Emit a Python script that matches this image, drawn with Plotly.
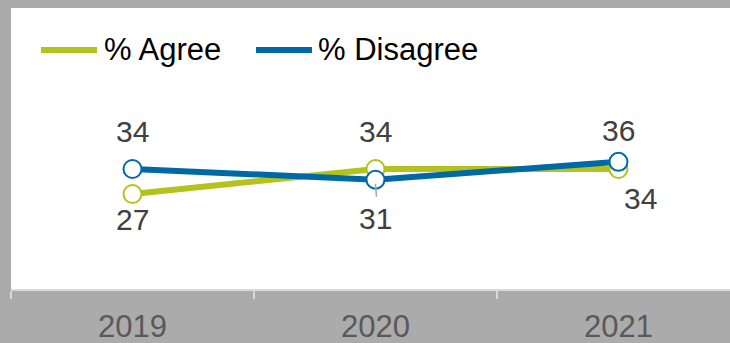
import plotly.graph_objects as go

years = ["2019", "2020", "2021"]
agree = [27, 34, 34]
disagree = [34, 31, 36]
series_names = ["% Agree", "% Disagree"]

# label placement (style): pixel shifts for data labels
agree_shift = [(0, -25), (0, 38), (22, -29)]
disagree_shift = [(0, 38), (0, -39), (0, 31)]

GREEN = "#B3C21C"
BLUE = "#0068A5"
FONT = "Liberation Sans, Arial, sans-serif"

W, H = 730, 343
ML, MR, MT, MB = 11, 0, 8, 54
PW, PH = W - ML - MR, H - MT - MB

fig = go.Figure()
for name, vals, col in [(series_names[0], agree, GREEN), (series_names[1], disagree, BLUE)]:
    fig.add_trace(go.Scatter(
        x=years, y=vals, mode="lines+markers", name=name,
        line=dict(color=col, width=6),
        marker=dict(symbol="circle", size=18, color="white", line=dict(color=col, width=2)),
        showlegend=False, cliponaxis=False,
    ))

for vals, shifts in [(agree, agree_shift), (disagree, disagree_shift)]:
    for i, (v, (dx, dy)) in enumerate(zip(vals, shifts)):
        fig.add_annotation(x=i, y=v, text=str(v), showarrow=False,
                           xshift=dx, yshift=dy,
                           font=dict(family=FONT, size=30, color="#404040"))

# leader line for 2020 disagree label
fig.add_shape(type="line", xref="x", yref="y", x0=1, x1=1.004,
              ysizemode="pixel", yanchor=disagree[1], y0=-4, y1=-17,
              line=dict(color="#A6A6A6", width=1.5), layer="above")

# manual legend
leg = [(41, 97, 102, series_names[0], GREEN), (256, 312, 316, series_names[1], BLUE)]
LY = 50
for x0, x1, tx, name, col in leg:
    fig.add_shape(type="line", xref="paper", yref="paper",
                  x0=(x0 - ML) / PW, x1=(x1 - ML) / PW,
                  y0=(MT + PH - LY) / PH, y1=(MT + PH - LY) / PH,
                  line=dict(color=col, width=6))
    fig.add_annotation(xref="paper", yref="paper", x=(tx - ML) / PW, y=(MT + PH - LY) / PH,
                       xanchor="left", yanchor="middle", text=name, showarrow=False,
                       font=dict(family=FONT, size=31, color="#000000"))

fig.update_layout(
    width=W, height=H,
    margin=dict(l=ML, r=MR, t=MT, b=MB, pad=0),
    paper_bgcolor="#ABABAB", plot_bgcolor="#FFFFFF",
    font=dict(family=FONT),
    xaxis=dict(type="category", range=[-0.5, 2.459], showgrid=False,
               showline=True, linecolor="#D9D9D9", linewidth=2,
               ticks="outside", tickson="boundaries", ticklen=8, tickcolor="#D9D9D9", tickwidth=1.5,
               ticklabelstandoff=9,
               tickfont=dict(family=FONT, size=31, color="#595959"),
               fixedrange=True),
    yaxis=dict(range=[0.4, 79.08], visible=False, showgrid=False, zeroline=False, fixedrange=True),
)

fig.write_html("out.html", config={"displayModeBar": False},
               post_script="document.body.style.margin='0';document.body.style.overflow='hidden';document.body.style.background='#ABABAB';")
